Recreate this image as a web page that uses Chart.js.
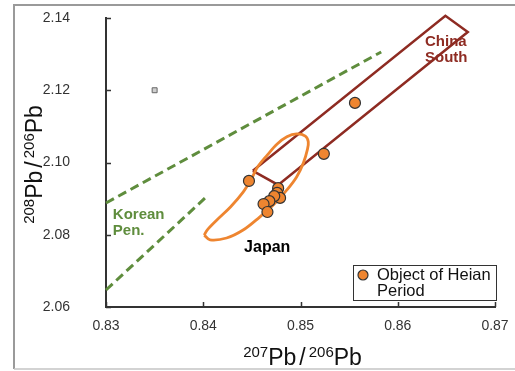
<!DOCTYPE html>
<html>
<head>
<meta charset="utf-8">
<script src="https://cdn.jsdelivr.net/npm/chart.js@4/dist/chart.umd.min.js"></script>
<style>
  html, body { margin: 0; padding: 0; background: #fff; }
  canvas { display: block; }
</style>
</head>
<body>
<canvas id="c" width="515" height="371"></canvas>
<script>
// Axis ticks
const xTicks = [0.83, 0.84, 0.85, 0.86, 0.87];
const yTicks = [2.06, 2.08, 2.10, 2.12, 2.14];

// Lead isotope ratios of the Heian-period objects
const heianX = [0.8447, 0.8524, 0.8556, 0.8477, 0.8476, 0.8479, 0.8473, 0.8468, 0.8462, 0.8466];
const heianY = [2.0949, 2.1024, 2.1165, 2.0929, 2.0916, 2.0902, 2.0907, 2.0893, 2.0885, 2.0863];

// Japan ore field outline (closed loop)
const japanX = [0.8401, 0.8407, 0.8424, 0.8441, 0.8458, 0.8472, 0.8486, 0.8496, 0.8503, 0.8507, 0.8508,
                0.8505, 0.8496, 0.8486, 0.8476, 0.8466, 0.8456, 0.8450, 0.8441, 0.8428, 0.8414, 0.8404, 0.8401];
const japanY = [2.0799, 2.0786, 2.0791, 2.0813, 2.0849, 2.0882, 2.0924, 2.0960, 2.0999, 2.1035, 2.1057,
                2.1073, 2.1079, 2.1071, 2.1051, 2.1021, 2.0988, 2.0957, 2.0918, 2.0877, 2.0841, 2.0813, 2.0799];

// South China field outline (closed)
const chinaX = [0.8451, 0.8477, 0.8672, 0.8649, 0.8451];
const chinaY = [2.0977, 2.0938, 2.1361, 2.1406, 2.0977];

// Korean Peninsula field boundaries
const koreaUpperX = [0.8300, 0.8583];
const koreaUpperY = [2.0888, 2.1306];
const koreaLowerX = [0.8300, 0.8402];
const koreaLowerY = [2.0647, 2.0902];

// Analytical error marker
const errX = [0.8350];
const errY = [2.1200];

// Text
const seriesName = 'Object of Heian Period';
const chinaName = ['China', 'South'];
const koreaName = ['Korean', 'Pen.'];
const japanName = ['Japan'];

const pts = (xs, ys) => xs.map((x, i) => ({ x: x, y: ys[i] }));

const FONT = '"Liberation Sans", Arial, sans-serif';
const ORANGE = '#EE8530';
const DARKRED = '#8E2B22';
const GREEN = '#5F8D3D';

// Outer frame of the figure
const framePlugin = {
  id: 'frame',
  beforeDraw(chart) {
    const ctx = chart.ctx;
    ctx.save();
    ctx.fillStyle = '#fff';
    ctx.fillRect(0, 0, chart.width, chart.height);
    ctx.strokeStyle = '#9a9a9a';
    ctx.lineWidth = 2;
    ctx.beginPath();
    ctx.moveTo(chart.width + 2, 5);
    ctx.lineTo(14, 5);
    ctx.lineTo(14, 369);
    ctx.stroke();
    ctx.strokeStyle = '#c4c4c4';
    ctx.lineWidth = 1.5;
    ctx.beginPath();
    ctx.moveTo(14, 369);
    ctx.lineTo(chart.width + 2, 369);
    ctx.stroke();
    ctx.restore();
  }
};

// Isotope ratio title with superscript mass numbers
function drawRatioTitle(ctx, parts) {
  const big = '23px ' + FONT, small = '15px ' + FONT;
  let total = 0;
  const widths = parts.map(p => {
    ctx.font = p.sup ? small : big;
    const w = ctx.measureText(p.t).width + (p.gap || 0);
    total += w;
    return w;
  });
  let x = -total / 2;
  parts.forEach((p, i) => {
    ctx.font = p.sup ? small : big;
    ctx.fillText(p.t, x + (p.gap || 0) / 2, p.sup ? -8 : 0);
    x += widths[i];
  });
}

const annotPlugin = {
  id: 'annot',
  afterDraw(chart) {
    const ctx = chart.ctx;
    const xs = chart.scales.x, ys = chart.scales.y;
    const area = chart.chartArea;
    ctx.save();

    // inward tick marks
    ctx.strokeStyle = '#333';
    ctx.lineWidth = 1.5;
    ctx.beginPath();
    yTicks.forEach(v => {
      const py = Math.round(ys.getPixelForValue(v)) + 0.5;
      ctx.moveTo(area.left, py);
      ctx.lineTo(area.left + 5, py);
    });
    xTicks.forEach(v => {
      const px = Math.round(xs.getPixelForValue(v)) + 0.5;
      ctx.moveTo(px, area.bottom);
      ctx.lineTo(px, area.bottom - 5);
    });
    ctx.stroke();

    // field names
    ctx.textBaseline = 'middle';
    ctx.textAlign = 'left';
    ctx.font = 'bold 15px ' + FONT;
    ctx.fillStyle = DARKRED;
    ctx.fillText(chinaName[0], xs.getPixelForValue(0.8628), ys.getPixelForValue(2.1334));
    ctx.fillText(chinaName[1], xs.getPixelForValue(0.8628), ys.getPixelForValue(2.1291));
    ctx.fillStyle = GREEN;
    ctx.fillText(koreaName[0], xs.getPixelForValue(0.8307), ys.getPixelForValue(2.0854));
    ctx.fillText(koreaName[1], xs.getPixelForValue(0.8307), ys.getPixelForValue(2.0810));
    ctx.fillStyle = '#000';
    ctx.font = 'bold 16px ' + FONT;
    ctx.fillText(japanName[0], xs.getPixelForValue(0.8442), ys.getPixelForValue(2.0765));

    // legend
    const lx = 353, ly = 265, lw = 143, lh = 35;
    ctx.fillStyle = '#fff';
    ctx.fillRect(lx, ly, lw, lh);
    ctx.strokeStyle = '#333';
    ctx.lineWidth = 1;
    ctx.strokeRect(lx + 0.5, ly + 0.5, lw, lh);
    ctx.beginPath();
    ctx.arc(lx + 10, ly + 10, 5, 0, Math.PI * 2);
    ctx.fillStyle = ORANGE;
    ctx.fill();
    ctx.strokeStyle = '#333';
    ctx.lineWidth = 1.2;
    ctx.stroke();
    ctx.fillStyle = '#111';
    ctx.font = '16.5px ' + FONT;
    const words = seriesName.split(' ');
    ctx.fillText(words.slice(0, 3).join(' '), lx + 24, ly + 10);
    ctx.fillText(words.slice(3).join(' '), lx + 24, ly + 26);

    // axis titles
    ctx.fillStyle = '#111';
    ctx.textAlign = 'left';
    ctx.textBaseline = 'alphabetic';
    ctx.save();
    ctx.translate((area.left + area.right) / 2 + 2, 365);
    drawRatioTitle(ctx, [{ t: '207', sup: true }, { t: 'Pb' }, { t: '/', gap: 6 }, { t: '206', sup: true }, { t: 'Pb' }]);
    ctx.restore();
    ctx.save();
    ctx.translate(42, (area.top + area.bottom) / 2 + 2);
    ctx.rotate(-Math.PI / 2);
    drawRatioTitle(ctx, [{ t: '208', sup: true }, { t: 'Pb' }, { t: '/', gap: 6 }, { t: '206', sup: true }, { t: 'Pb' }]);
    ctx.restore();

    ctx.restore();
  }
};

new Chart(document.getElementById('c'), {
  type: 'scatter',
  data: {
    datasets: [
      {
        label: seriesName,
        data: pts(heianX, heianY),
        pointRadius: 5.5,
        pointBackgroundColor: ORANGE,
        pointBorderColor: '#333',
        pointBorderWidth: 1.2,
        clip: false
      },
      {
        label: 'error',
        data: pts(errX, errY),
        pointStyle: 'rect',
        pointRadius: 3.5,
        pointBackgroundColor: '#cfcfcf',
        pointBorderColor: '#666',
        pointBorderWidth: 1,
        clip: false
      },
      {
        label: 'Japan',
        data: pts(japanX, japanY),
        showLine: true,
        tension: 0.35,
        borderColor: ORANGE,
        borderWidth: 2.8,
        pointRadius: 0,
        clip: false
      },
      {
        label: 'China South',
        data: pts(chinaX, chinaY),
        showLine: true,
        borderColor: DARKRED,
        borderWidth: 2.5,
        borderJoinStyle: 'miter',
        pointRadius: 0,
        clip: false
      },
      {
        label: 'Korean Pen. upper',
        data: pts(koreaUpperX, koreaUpperY),
        showLine: true,
        borderColor: GREEN,
        borderWidth: 3,
        borderDash: [9, 5],
        pointRadius: 0,
        clip: false
      },
      {
        label: 'Korean Pen. lower',
        data: pts(koreaLowerX, koreaLowerY),
        showLine: true,
        borderColor: GREEN,
        borderWidth: 3,
        borderDash: [9, 5],
        pointRadius: 0,
        clip: false
      }
    ]
  },
  options: {
    responsive: false,
    animation: false,
    devicePixelRatio: 1,
    layout: { padding: { left: 0, right: 20, top: 18, bottom: 0 } },
    plugins: { legend: { display: false }, tooltip: { enabled: false } },
    scales: {
      x: {
        type: 'linear',
        min: 0.83,
        max: 0.87,
        afterBuildTicks: s => { s.ticks = xTicks.map(v => ({ value: v })); },
        afterFit: s => { s.height = 64; s.paddingLeft = 0; s.paddingRight = 0; },
        grid: { display: false, drawTicks: false },
        border: { display: true, color: '#333', width: 2 },
        ticks: {
          padding: 11,
          color: '#333',
          font: { family: FONT, size: 14 },
          callback: v => v.toFixed(2)
        }
      },
      y: {
        type: 'linear',
        min: 2.06,
        max: 2.14,
        afterBuildTicks: s => { s.ticks = yTicks.map(v => ({ value: v })); },
        afterFit: s => { s.width = 106; s.paddingTop = 0; s.paddingBottom = 0; },
        grid: { display: false, drawTicks: false },
        border: { display: true, color: '#333', width: 2 },
        ticks: {
          padding: 36,
          color: '#333',
          font: { family: FONT, size: 14 },
          callback: v => v.toFixed(2)
        }
      }
    }
  },
  plugins: [framePlugin, annotPlugin]
});
</script>
</body>
</html>
